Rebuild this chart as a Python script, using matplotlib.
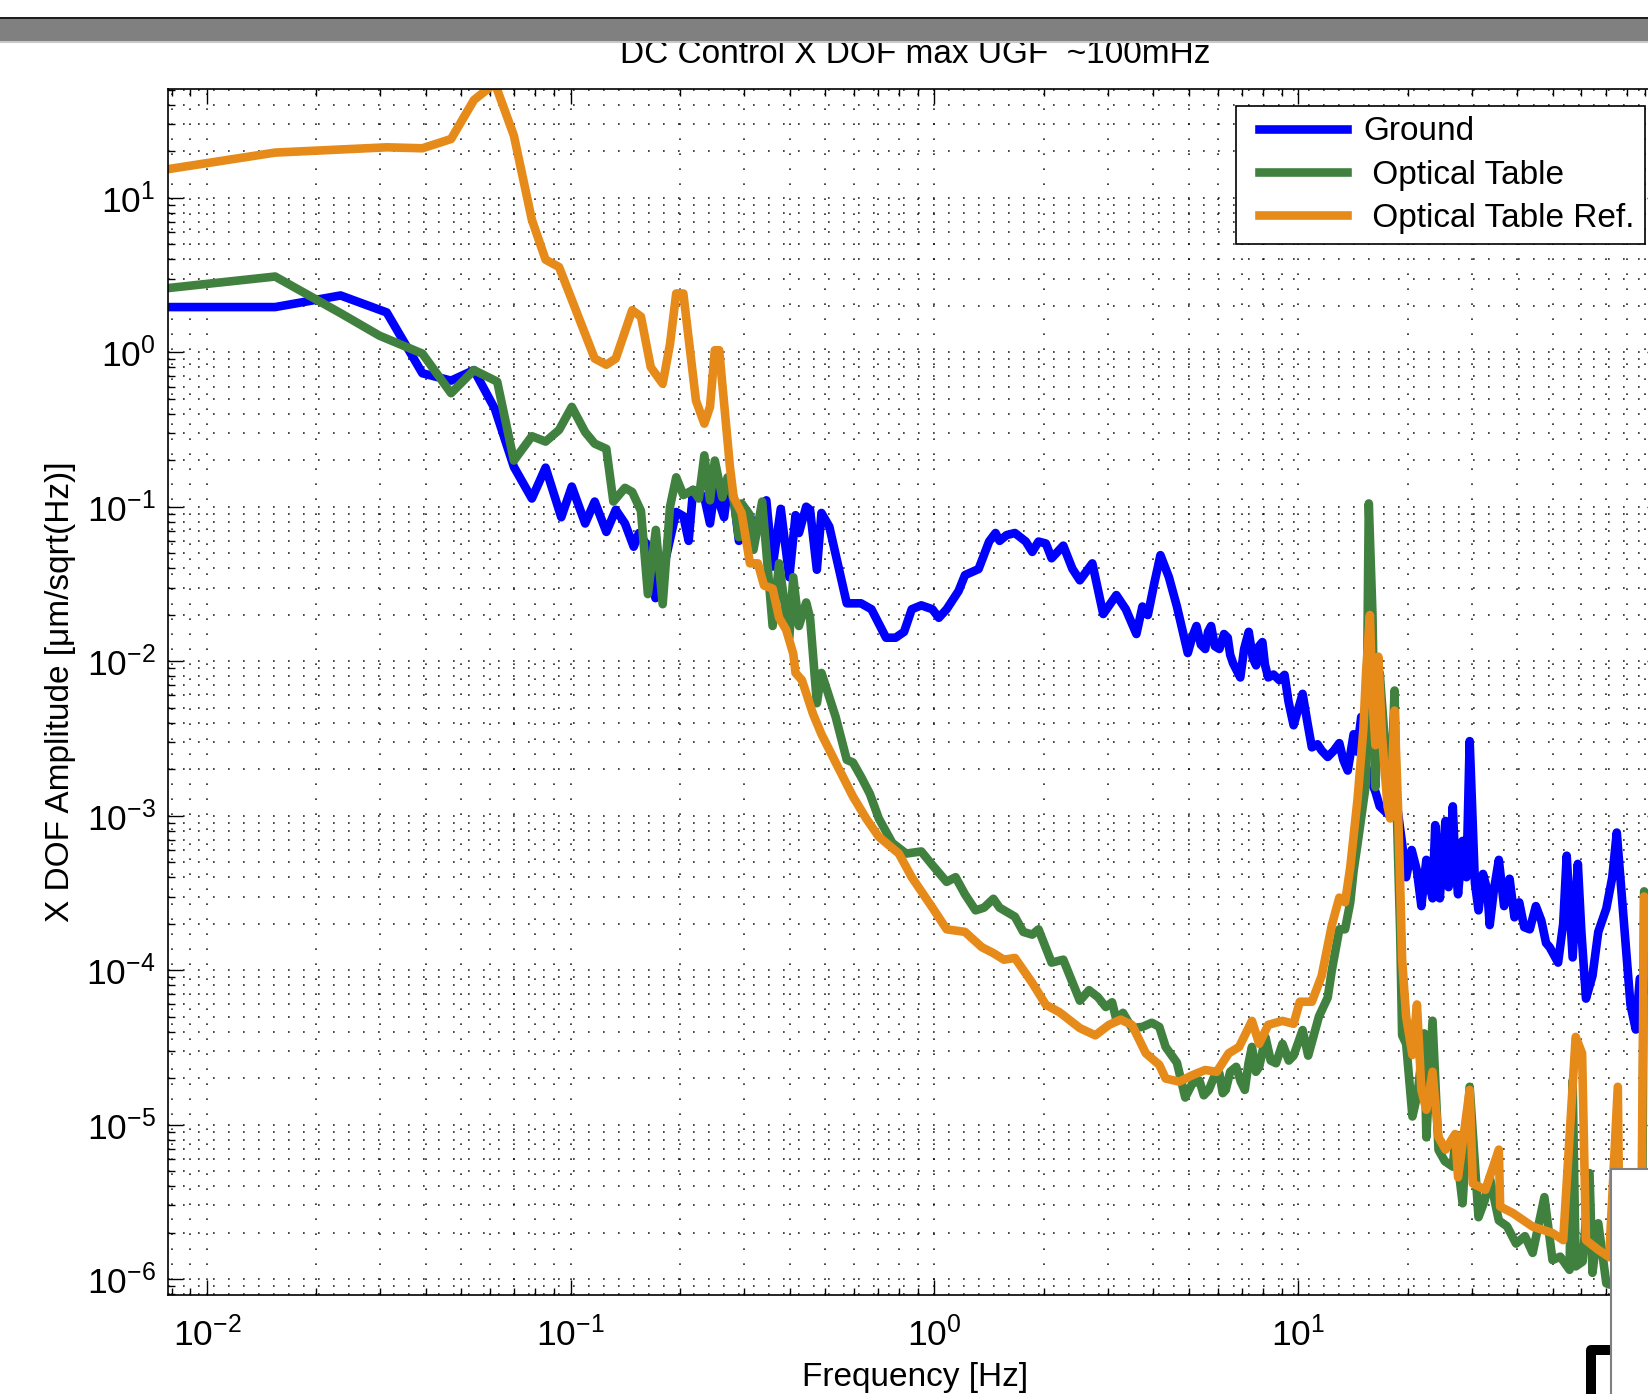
import numpy as np
import matplotlib
matplotlib.use("Agg")
import matplotlib.pyplot as plt
from matplotlib.ticker import LogLocator, NullFormatter
from matplotlib.patches import Rectangle
from matplotlib.lines import Line2D
from matplotlib.legend_handler import HandlerLine2D

plt.rcParams['font.family'] = ['Liberation Sans', 'DejaVu Sans']
plt.rcParams['mathtext.fontset'] = 'custom'
plt.rcParams['mathtext.rm'] = 'Liberation Sans'

title = 'DC Control X DOF max UGF  ~100mHz'
xlabel = 'Frequency [Hz]'
ylabel = 'X DOF Amplitude [\u03bcm/sqrt(Hz)]'
labels = ['Ground', ' Optical Table', ' Optical Table Ref.']
colors = ['#0000ff', '#41813f', '#e68a1a']

# (frequency [Hz], amplitude)
ground = [(0.0078, 1.96), (0.0154, 1.96), (0.0233, 2.33), (0.0312, 1.81), (0.0391, 0.731),
          (0.0469, 0.655), (0.0542, 0.766), (0.0619, 0.429), (0.0698, 0.181), (0.0782, 0.113),
          (0.0853, 0.179), (0.0942, 0.0855), (0.1007, 0.135), (0.1096, 0.0779), (0.1164, 0.108),
          (0.1253, 0.0687), (0.133, 0.0955), (0.141, 0.0779), (0.149, 0.0551), (0.154, 0.0676),
          (0.163, 0.0551), (0.171, 0.0256), (0.182, 0.045), (0.195, 0.0925), (0.204, 0.0869),
          (0.211, 0.0601), (0.217, 0.1285), (0.225, 0.1225), (0.233, 0.115), (0.2415, 0.0779),
          (0.249, 0.1305), (0.264, 0.0855), (0.270, 0.1285), (0.2805, 0.115), (0.290, 0.0601),
          (0.303, 0.0955), (0.311, 0.0869), (0.323, 0.0676), (0.345, 0.110), (0.359, 0.041),
          (0.378, 0.0969), (0.399, 0.035), (0.415, 0.0882), (0.424, 0.0676), (0.444, 0.100),
          (0.455, 0.0955), (0.475, 0.0391), (0.489, 0.0911), (0.514, 0.0743), (0.574, 0.0237),
          (0.628, 0.0237), (0.671, 0.0217), (0.736, 0.0142), (0.782, 0.0142), (0.825, 0.0155),
          (0.866, 0.0217), (0.920, 0.023), (0.987, 0.0217), (1.028, 0.0191), (1.080, 0.0217),
          (1.165, 0.0285), (1.213, 0.0361), (1.322, 0.0395), (1.413, 0.0595), (1.472, 0.0676),
          (1.51, 0.0601), (1.578, 0.0655), (1.664, 0.0676), (1.783, 0.0595), (1.857, 0.051),
          (1.932, 0.0595), (2.024, 0.0578), (2.099, 0.0464), (2.26, 0.056), (2.393, 0.0397),
          (2.51, 0.0334), (2.716, 0.043), (2.91, 0.0202), (3.162, 0.0268), (3.357, 0.0217),
          (3.59, 0.015), (3.73, 0.0226), (3.86, 0.0199), (4.02, 0.0319), (4.18, 0.0486),
          (4.41, 0.035), (4.64, 0.0226), (4.97, 0.0113), (5.12, 0.0145), (5.25, 0.0169),
          (5.40, 0.0128), (5.55, 0.012), (5.65, 0.0155), (5.76, 0.0169), (5.90, 0.0125),
          (6.07, 0.012), (6.25, 0.0150), (6.40, 0.0142), (6.50, 0.0110), (6.62, 0.0097),
          (6.93, 0.00785), (7.10, 0.0120), (7.31, 0.0155), (7.50, 0.0105), (7.66, 0.0094),
          (7.80, 0.0125), (7.97, 0.0133), (8.10, 0.0095), (8.27, 0.00785), (8.55, 0.0082),
          (8.87, 0.00755), (9.17, 0.00816), (9.40, 0.0055), (9.71, 0.00385), (10.28, 0.00615),
          (10.6, 0.0040), (10.9, 0.00277), (11.3, 0.0029), (11.6, 0.00264), (12.05, 0.0024),
          (12.53, 0.00264), (12.97, 0.00295), (13.3, 0.0023), (13.68, 0.00196), (14.2, 0.00337),
          (14.5, 0.0026), (14.9, 0.00436), (15.2, 0.0022), (16.3, 0.00143), (16.75, 0.00115),
          (17.6, 0.00103), (18.6, 0.00127), (19.3, 0.00066), (19.8, 0.0004), (20.5, 0.0006),
          (21.2, 0.00044), (21.8, 0.00026), (22.5, 0.000518), (23.0, 0.00035), (23.4, 0.000292),
          (23.8, 0.000869), (24.5, 0.000292), (25.0, 0.0006), (25.4, 0.000925), (25.9, 0.000345),
          (26.3, 0.0007), (26.6, 0.00115), (27.0, 0.0005), (27.5, 0.00031), (28.3, 0.000687),
          (29.0, 0.0004), (29.6, 0.00304), (30.6, 0.000367), (31.3, 0.000244), (32.2, 0.00042),
          (33.1, 0.000329), (33.6, 0.000196), (34.5, 0.00033), (35.6, 0.000518), (36.8, 0.00026),
          (38.1, 0.000391), (39.3, 0.00022), (40.5, 0.000275), (41.8, 0.00019), (43.3, 0.000184),
          (45.0, 0.00026), (46.6, 0.000209), (48.0, 0.00015), (49.1, 0.000141), (51.8, 0.000112),
          (53.5, 0.00020), (54.7, 0.000551), (56.8, 0.000121), (58.7, 0.000488), (60.0, 0.00018),
          (61.8, 6.55e-5), (64.4, 9.2e-5), (66.8, 0.000177), (70.3, 0.000251), (73.0, 0.00040),
          (75.1, 0.000778), (78.2, 0.000237), (81.9, 5.97e-5), (84.7, 4.13e-5), (86.9, 8.83e-5),
          (100.0, 6e-5)]

table = [(0.0078, 2.60), (0.0154, 3.09), (0.0233, 1.79), (0.0298, 1.28), (0.0391, 0.98),
         (0.0469, 0.543), (0.0542, 0.766), (0.0628, 0.645), (0.0698, 0.199), (0.0782, 0.286),
         (0.0853, 0.264), (0.0929, 0.314), (0.1007, 0.443), (0.1096, 0.304), (0.1164, 0.256),
         (0.1253, 0.237), (0.131, 0.108), (0.141, 0.1325), (0.1476, 0.1245), (0.156, 0.094),
         (0.163, 0.0272), (0.1714, 0.0708), (0.179, 0.0234), (0.1875, 0.100), (0.195, 0.155),
         (0.204, 0.119), (0.217, 0.1285), (0.225, 0.113), (0.233, 0.215), (0.2415, 0.110),
         (0.249, 0.199), (0.261, 0.115), (0.270, 0.155), (0.2805, 0.110), (0.290, 0.0635),
         (0.295, 0.105), (0.311, 0.0882), (0.318, 0.0526), (0.336, 0.108), (0.359, 0.0169),
         (0.374, 0.043), (0.399, 0.0142), (0.409, 0.035), (0.424, 0.0169), (0.444, 0.024),
         (0.455, 0.0191), (0.475, 0.00535), (0.489, 0.0084), (0.535, 0.00436), (0.574, 0.0023),
         (0.597, 0.00221), (0.628, 0.00179), (0.664, 0.00139), (0.703, 0.00096), (0.766, 0.000666),
         (0.836, 0.000569), (0.920, 0.000587), (0.987, 0.000479), (1.080, 0.000373), (1.143, 0.0004),
         (1.213, 0.00031), (1.297, 0.000244), (1.368, 0.000254), (1.452, 0.00029), (1.51, 0.000254),
         (1.664, 0.000222), (1.754, 0.000177), (1.857, 0.00017), (1.932, 0.000184), (2.099, 0.000112),
         (2.26, 0.000117), (2.51, 6.35e-5), (2.66, 7.43e-5), (2.813, 6.7e-5), (2.958, 5.78e-5),
         (3.078, 6.2e-5), (3.162, 4.79e-5), (3.297, 5.3e-5), (3.49, 4.22e-5), (3.73, 4.3e-5),
         (3.96, 4.57e-5), (4.15, 4.3e-5), (4.32, 3.19e-5), (4.64, 2.52e-5), (4.89, 1.5e-5),
         (5.11, 1.84e-5), (5.35, 1.93e-5), (5.50, 1.55e-5), (5.68, 1.68e-5), (5.85, 2.0e-5),
         (6.07, 2.15e-5), (6.20, 1.6e-5), (6.32, 1.68e-5), (6.50, 2.2e-5), (6.75, 2.37e-5),
         (6.95, 1.9e-5), (7.13, 1.68e-5), (7.30, 2.5e-5), (7.46, 3.19e-5), (7.65, 2.2e-5),
         (7.81, 2.37e-5), (8.13, 3.67e-5), (8.40, 2.6e-5), (8.69, 2.5e-5), (9.05, 3.34e-5),
         (9.42, 2.6e-5), (9.71, 2.8e-5), (10.28, 4.1e-5), (10.65, 2.8e-5), (11.4, 5.02e-5),
         (12.05, 6.65e-5), (12.37, 1.0e-4), (12.97, 1.84e-4), (13.45, 1.84e-4), (13.9, 2.75e-4),
         (14.2, 4.43e-4), (14.56, 6.6e-4), (15.36, 1.63e-3), (15.63, 0.105), (16.0, 0.0199),
         (16.3, 0.00153), (16.75, 0.0084), (17.6, 0.00173), (17.9, 0.00103), (18.4, 0.00646),
         (18.6, 0.00143), (19.06, 0.000177), (19.3, 3.79e-5), (19.8, 3.34e-5), (20.6, 1.13e-5),
         (21.3, 1.6e-5), (22.2, 3.9e-5), (22.5, 8.28e-6), (23.4, 4.71e-5), (24.3, 6.87e-6),
         (25.3, 5.8e-6), (26.6, 5.35e-6), (27.0, 7.9e-6), (28.3, 3.1e-6), (29.6, 1.76e-5),
         (31.3, 2.52e-6), (32.5, 3.2e-6), (33.6, 4.57e-6), (35.6, 2.4e-6), (37.5, 2.2e-6),
         (39.7, 1.7e-6), (42.0, 1.9e-6), (44.1, 1.48e-6), (47.5, 3.4e-6), (50.0, 1.33e-6),
         (52.5, 1.4e-6), (55.7, 1.15e-6), (56.8, 1.93e-5), (57.9, 1.21e-6), (60.5, 1.3e-6),
         (63.2, 4.86e-6), (64.4, 1.1e-6), (66.8, 2.3e-6), (70.3, 9.4e-7), (80.0, 8.5e-7),
         (88.0, 9e-7), (89.3, 3.24e-4), (91.0, 3.0e-4), (100.0, 2e-4)]

table_ref = [(0.0078, 15.3), (0.0154, 19.6), (0.0312, 21.2), (0.0391, 20.9), (0.0469, 24.0),
             (0.0542, 42.9), (0.0619, 55.0), (0.0698, 25.2), (0.0782, 7.2), (0.0853, 3.97),
             (0.0929, 3.56), (0.1164, 0.91), (0.1253, 0.83), (0.133, 0.91), (0.1476, 1.87),
             (0.156, 1.70), (0.166, 0.80), (0.179, 0.625), (0.1875, 1.13), (0.195, 2.40),
             (0.204, 2.40), (0.221, 0.486), (0.233, 0.345), (0.2415, 0.443), (0.249, 1.03),
             (0.256, 1.03), (0.274, 0.181), (0.2805, 0.115), (0.295, 0.0911), (0.311, 0.043),
             (0.327, 0.043), (0.340, 0.0309), (0.359, 0.0295), (0.374, 0.0191), (0.391, 0.016),
             (0.409, 0.0112), (0.415, 0.0084), (0.432, 0.00755), (0.464, 0.00453), (0.489, 0.00337),
             (0.535, 0.00221), (0.597, 0.00133), (0.649, 0.00096), (0.703, 0.000731), (0.798, 0.000569),
             (0.866, 0.0004), (0.987, 0.000254), (1.080, 0.000184), (1.213, 0.000177), (1.349, 0.000141),
             (1.452, 0.000129), (1.552, 0.000117), (1.664, 0.00012), (1.857, 8.28e-5), (2.024, 5.97e-5),
             (2.208, 5.34e-5), (2.51, 4.22e-5), (2.768, 3.79e-5), (3.02, 4.43e-5), (3.25, 4.79e-5),
             (3.49, 4.43e-5), (3.81, 2.9e-5), (4.15, 2.44e-5), (4.32, 1.99e-5), (4.71, 1.9e-5),
             (5.11, 2.09e-5), (5.55, 2.26e-5), (5.97, 2.2e-5), (6.44, 2.9e-5), (6.88, 3.19e-5),
             (7.46, 4.7e-5), (7.81, 3.34e-5), (8.27, 4.43e-5), (9.05, 4.7e-5), (9.71, 4.5e-5),
             (10.1, 6.25e-5), (10.9, 6.25e-5), (11.6, 9.2e-5), (12.37, 1.96e-4), (12.97, 2.95e-4),
             (13.45, 2.75e-4), (13.9, 4.64e-4), (14.56, 1.29e-3), (15.1, 0.00361), (15.36, 0.0084),
             (15.74, 0.0199), (16.0, 0.00569), (16.3, 0.00286), (16.6, 0.0107), (17.0, 0.00324),
             (17.6, 0.00115), (17.9, 0.00096), (18.4, 0.00479), (18.8, 0.00115), (19.06, 0.000367),
             (19.3, 0.000117), (19.8, 5.0e-5), (20.6, 2.83e-5), (21.2, 6.0e-5), (21.8, 1.68e-5),
             (22.5, 1.25e-5), (23.4, 2.2e-5), (24.3, 8.3e-6), (25.4, 6.9e-6), (27.0, 8.7e-6),
             (27.5, 4.57e-6), (29.6, 1.68e-5), (30.2, 4.16e-6), (32.7, 3.79e-6), (35.6, 6.9e-6),
             (35.9, 2.95e-6), (38.9, 2.68e-6), (44.1, 2.19e-6), (50.0, 1.99e-6), (53.5, 1.79e-6),
             (54.7, 4.16e-6), (57.9, 3.7e-5), (60.3, 2.9e-5), (61.8, 1.79e-6), (66.8, 1.55e-6),
             (71.6, 1.39e-6), (75.6, 1.76e-5), (76.5, 1.3e-6), (85.0, 1.2e-6), (88.0, 5e-6),
             (89.3, 3.0e-4), (91.0, 2.8e-4), (100.0, 2e-4)]

xlim = (1 / 128, 100)
ylim = (7.9e-7, 50.5)


class PaddedLine(HandlerLine2D):
    # legend line that leaves a small gap on its left, like the MATLAB legend
    def create_artists(self, legend, orig_handle, xdescent, ydescent, width, height, fontsize, trans):
        pad = 0.38 * fontsize
        return super().create_artists(legend, orig_handle, xdescent - pad, ydescent,
                                      width - pad, height, fontsize, trans)


fig = plt.figure(figsize=(16.48, 13.94), dpi=100)
ax = fig.add_axes([0.1019, 0.0710, 0.9066, 0.8651])

lines = []
for data, lab, col in zip([ground, table, table_ref], labels, colors):
    f, a = np.array(data).T
    ln, = ax.plot(f, a, color=col, lw=6.2, label=lab, solid_joinstyle='round')
    lines.append(ln)

ax.set_xscale('log')
ax.set_yscale('log')
ax.set_xlim(xlim)
ax.set_ylim(ylim)

for axis in (ax.xaxis, ax.yaxis):
    axis.set_major_locator(LogLocator(base=10, numticks=100))
    axis.set_minor_locator(LogLocator(base=10, subs=np.arange(2, 10), numticks=100))
    axis.set_minor_formatter(NullFormatter())

ax.grid(True, which='both', color='k', linestyle=(0, (1, 8)), linewidth=1.2, alpha=0.85)
ax.tick_params(which='both', direction='in', top=True, right=True, width=1.0)
ax.tick_params(which='major', length=11, labelsize=25.5)
ax.tick_params(which='minor', length=5)
ax.tick_params(axis='x', which='major', pad=15)
ax.tick_params(axis='y', which='major', pad=9)
for s in ax.spines.values():
    s.set_linewidth(1.2)

ax.set_xlabel(xlabel, fontsize=24)
ax.set_ylabel(ylabel, fontsize=24)
ax.xaxis.set_label_coords(0.5, -0.0556)
ax.yaxis.set_label_coords(-0.0616, 0.5)

leg = ax.legend(handles=lines, loc='upper right', fontsize=24, fancybox=False, edgecolor='k',
                framealpha=1, borderaxespad=0.52, handlelength=3.03, handletextpad=0.48,
                labelspacing=0.37, borderpad=0.3,
                handler_map={Line2D: PaddedLine()})
leg.get_frame().set_linewidth(1.2)

fig.text(915 / 1648, 1 - 63 / 1394, title, ha='center', va='baseline', fontsize=24)

# window chrome that shows in the screenshot
H = 1394.0
W = 1648.0
fig.add_artist(Rectangle((0, 1 - 41 / H), 1, 23 / H, transform=fig.transFigure,
                         facecolor='#808080', edgecolor='none', zorder=10))
fig.add_artist(Rectangle((0, 1 - 19 / H), 1, 2 / H, transform=fig.transFigure,
                         facecolor='#1e1e1e', edgecolor='none', zorder=11))
fig.add_artist(Rectangle((0, 1 - 43 / H), 1, 2 / H, transform=fig.transFigure,
                         facecolor='#c8c8c8', edgecolor='none', zorder=11))
fig.add_artist(Line2D([1591 / W, 1591 / W, 1615 / W], [-0.01, 1 - 1350 / H, 1 - 1350 / H],
                      transform=fig.transFigure, color='k', lw=7.2,
                      solid_joinstyle='round', zorder=9))
fig.add_artist(Rectangle((1611 / W, -0.05), 0.2, 0.05 + (H - 1169) / H, transform=fig.transFigure,
                         facecolor='white', edgecolor='#808080', lw=1.5, zorder=10))

fig.savefig('out.png', dpi=100)
